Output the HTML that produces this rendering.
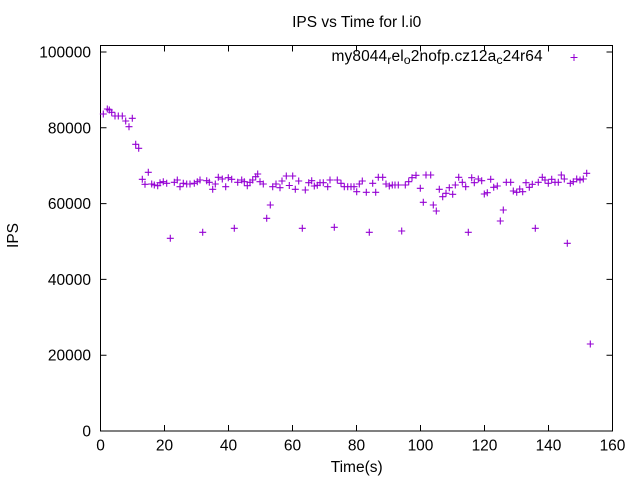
<!DOCTYPE html>
<html>
<head>
<meta charset="utf-8">
<style>
html,body{margin:0;padding:0;background:#fff;}
svg{display:block;}
text{font-family:"Liberation Sans",sans-serif;fill:#000;}
</style>
</head>
<body>
<svg width="640" height="480" viewBox="0 0 640 480" xmlns="http://www.w3.org/2000/svg">
<rect x="0" y="0" width="640" height="480" fill="#fff"/>
<!-- frame -->
<rect x="100.5" y="45.5" width="512" height="385.5" fill="none" stroke="#000" stroke-width="1"/>
<!-- ticks -->
<g stroke="#000" stroke-width="1">
<path d="M100.5 431h6M612.5 431h-6
M100.5 355.2h6M612.5 355.2h-6
M100.5 279.4h6M612.5 279.4h-6
M100.5 203.6h6M612.5 203.6h-6
M100.5 127.8h6M612.5 127.8h-6
M100.5 52h6M612.5 52h-6"/>
<path d="M100.5 431v-6M100.5 45.5v6
M164.5 431v-6M164.5 45.5v6
M228.5 431v-6M228.5 45.5v6
M292.5 431v-6M292.5 45.5v6
M356.5 431v-6M356.5 45.5v6
M420.5 431v-6M420.5 45.5v6
M484.5 431v-6M484.5 45.5v6
M548.5 431v-6M548.5 45.5v6
M612.5 431v-6M612.5 45.5v6"/>
</g>
<!-- y tick labels -->
<g font-size="15.5" text-anchor="end">
<text x="91" y="436.5">0</text>
<text x="91" y="360.7">20000</text>
<text x="91" y="284.9">40000</text>
<text x="91" y="209.1">60000</text>
<text x="91" y="133.3">80000</text>
<text x="91" y="57.5">100000</text>
</g>
<!-- x tick labels -->
<g font-size="15.5" text-anchor="middle">
<text x="100.5" y="450.5">0</text>
<text x="164.5" y="450.5">20</text>
<text x="228.5" y="450.5">40</text>
<text x="292.5" y="450.5">60</text>
<text x="356.5" y="450.5">80</text>
<text x="420.5" y="450.5">100</text>
<text x="484.5" y="450.5">120</text>
<text x="548.5" y="450.5">140</text>
<text x="612.5" y="450.5">160</text>
</g>
<!-- title & axis labels -->
<text x="356.7" y="27" font-size="15.5" text-anchor="middle">IPS vs Time for l.i0</text>
<text x="356.7" y="472" font-size="15.5" text-anchor="middle">Time(s)</text>
<text x="0" y="0" font-size="15.5" text-anchor="middle" transform="translate(18,235.5) rotate(-90)">IPS</text>
<!-- legend -->
<text x="331.5" y="61" font-size="15.5" letter-spacing="0.1">my8044<tspan font-size="12.4" dy="3">r</tspan><tspan dy="-3">el</tspan><tspan font-size="12.4" dy="3">o</tspan><tspan dy="-3">2nofp.cz12a</tspan><tspan font-size="12.4" dy="3">c</tspan><tspan dy="-3">24r64</tspan></text>
<path d="M570.5 57.5h7M574 54v7" stroke="#9400d3" stroke-width="1" fill="none"/>
<!-- data -->
<g id="pts" stroke="#9400d3" stroke-width="1.1" fill="none"></g>
</svg>
<script>
var p=[[103.3,114],[107.3,109],[109.3,110],[111.7,112.3],[115,116],[118.3,116],[122.3,116],[125.7,121],[129,126.7],[132.3,118.3],[135.7,144.3],[138.7,148.3],[142.3,179.3],[145,184.3],[148.3,172.3],[151.7,184],[154.3,185],[157.7,185.7],[160,182.7],[163.3,181.7],[166.7,183.3],[170.3,238.3],[174.3,182.3],[177.3,180],[180,186.7],[183.3,183.3],[186.7,184],[190,184],[194.3,183.3],[197.3,181.7],[200,180],[202.7,232.3],[206.7,180.7],[209.3,182.3],[212.7,189.3],[215.3,184],[218.3,177.3],[222.3,179],[225.7,186.7],[228.3,177.7],[231.7,179.3],[234.3,228.3],[237.7,182.3],[241.7,180],[244.3,181.7],[247.3,185.7],[250,182.3],[252.7,180],[255.7,176.7],[257.7,174],[260,181.7],[263.3,184],[266.7,218.3],[270.3,205],[272.7,186.7],[276,184],[280,187.7],[282,181],[286.3,176],[289.3,185.5],[292.7,176],[295.3,189.3],[298.7,181],[302.3,228.3],[305.3,190],[308.7,182.7],[311.7,180.7],[314.3,186],[317.3,185.3],[320,182.7],[323.3,182.7],[327.7,186.7],[330,180],[334.3,227.3],[337.3,180],[341,183.3],[344.3,186.7],[347.7,186.7],[351,186.7],[354,186.7],[356.7,191.7],[359.3,184],[362.3,181],[366.3,192.3],[369.3,232.3],[372.7,183.3],[375.7,192.3],[378.3,177.3],[382.7,177.3],[386,184],[389.3,186],[392.3,185],[395,185],[398.3,185],[401.7,231],[405.3,185],[408.7,181.7],[412,177.7],[416,175.3],[420.3,188.3],[423.3,202.3],[426,175],[430.7,175],[433.3,205],[436.3,211],[439.3,189.3],[442.7,196.7],[446,193.3],[449.3,187.7],[452.7,194.3],[455.3,185],[458.7,177.3],[462.3,182.3],[465.7,186.7],[468.3,232.3],[471.7,177.7],[474.3,182.7],[478.3,179],[481.7,180.7],[484.3,194],[487.3,192.7],[490.7,179.3],[493.7,187.3],[497.3,186],[500.3,221],[503.3,210],[506.3,182.3],[510.7,182.3],[513.3,191],[516.7,192.3],[519.7,189],[522.7,191.7],[526,182.7],[529.3,187.3],[532.3,184.3],[535.3,228.3],[538.3,182.3],[542.3,177.3],[545,180],[548.3,183.3],[551.7,179.3],[555,182.3],[558.3,182.3],[561.3,175],[564.3,179],[567.3,243.3],[570.3,183.3],[573.3,181.7],[576.7,179],[580,180],[583.3,179],[586.7,173.3],[590.3,344]];
var d="";
for(var i=0;i<p.length;i++){var x=p[i][0],y=p[i][1];d+="M"+(x-3.5).toFixed(1)+" "+y.toFixed(1)+"h7M"+x.toFixed(1)+" "+(y-3.5).toFixed(1)+"v7";}
var path=document.createElementNS("http://www.w3.org/2000/svg","path");
path.setAttribute("d",d);
document.getElementById("pts").appendChild(path);
</script>
</body>
</html>
